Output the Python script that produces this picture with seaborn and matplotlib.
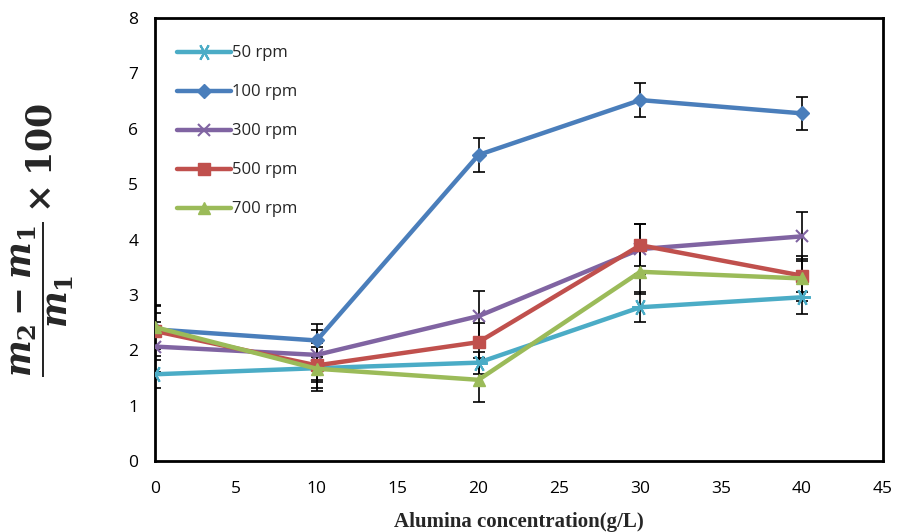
import numpy as np
import pandas as pd
import matplotlib
matplotlib.use("Agg")
import matplotlib.pyplot as plt
import seaborn as sns

conc = [0, 10, 20, 30, 40]
series = ["50 rpm", "100 rpm", "300 rpm", "500 rpm", "700 rpm"]
v50 = [1.57, 1.68, 1.78, 2.78, 2.96]
v100 = [2.38, 2.18, 5.53, 6.52, 6.28]
v300 = [2.07, 1.92, 2.62, 3.83, 4.06]
v500 = [2.35, 1.73, 2.15, 3.90, 3.35]
v700 = [2.42, 1.67, 1.47, 3.42, 3.30]
e50 = [0.25, 0.25, 0.2, 0.27, 0.30]
e100 = [0.30, 0.30, 0.30, 0.30, 0.30]
e300 = [0.45, 0.45, 0.45, 0.45, 0.44]
e500 = [0.45, 0.40, 0.35, 0.38, 0.30]
e700 = [0.40, 0.40, 0.40, 0.40, 0.40]

colors = ["#4BACC6", "#4A7EBB", "#8064A2", "#C0504D", "#9BBB59"]
markers = [(6, 2, 90), "D", "x", "s", "^"]
msizes = [12, 7, 9, 9, 9]

vals = [v50, v100, v300, v500, v700]
errs = [e50, e100, e300, e500, e700]

rows = []
for s, v in zip(series, vals):
    for c, y in zip(conc, v):
        rows.append({"conc": c, "val": y, "series": s})
df = pd.DataFrame(rows)

sns.set_theme(style="white")
matplotlib.rcParams["mathtext.fontset"] = "custom"
matplotlib.rcParams["mathtext.it"] = "DejaVu Serif:italic:bold"
matplotlib.rcParams["mathtext.rm"] = "DejaVu Serif:bold"
matplotlib.rcParams["mathtext.bf"] = "DejaVu Serif:bold"

fig, ax = plt.subplots(figsize=(9.01, 5.32), dpi=100)
fig.subplots_adjust(left=0.172, right=0.98, top=0.966, bottom=0.133)

for s, v, e in zip(series, vals, errs):
    ax.errorbar(conc, v, yerr=e, fmt="none", ecolor="black", elinewidth=1.2,
                capsize=4, capthick=1.2, zorder=1)

for i, s in enumerate(series):
    sub = df[df["series"] == s]
    sns.lineplot(data=sub, x="conc", y="val", ax=ax, color=colors[i], lw=3.2,
                 marker=markers[i], markersize=msizes[i], markeredgecolor=colors[i],
                 markerfacecolor=colors[i], markeredgewidth=1.5 if i in (0, 2) else 1.0,
                 label=s, zorder=3, errorbar=None)

ax.set_xlim(0, 45)
ax.set_ylim(0, 8)
ax.set_xticks(range(0, 46, 5))
ax.set_yticks(range(0, 9))
tick_font = {"family": "Open Sans", "size": 12.5}
ax.set_xticklabels([str(t) for t in range(0, 46, 5)], fontdict=tick_font)
ax.set_yticklabels([str(t) for t in range(0, 9)], fontdict=tick_font)
ax.tick_params(axis="both", direction="out", length=4, width=0.8, color="#808080",
               labelcolor="black")
ax.tick_params(axis="x", pad=10)
ax.tick_params(axis="y", pad=8)

for sp in ax.spines.values():
    sp.set_color("black")
    sp.set_linewidth(2.0)

ax.set_ylabel(r"$\dfrac{m_2 - m_1}{m_1}\times 100$", fontsize=25, labelpad=38)
ax.set_xlabel("Alumina concentration(g/L)", fontsize=15, fontweight="bold",
              family="Liberation Serif", labelpad=11)

leg = ax.legend(loc="upper left", bbox_to_anchor=(0.01, 0.972), frameon=False,
                handlelength=3.2, labelspacing=1.38, prop={"family": "Open Sans", "size": 12},
                handletextpad=0.1)

fig.savefig("out.png", dpi=100)
